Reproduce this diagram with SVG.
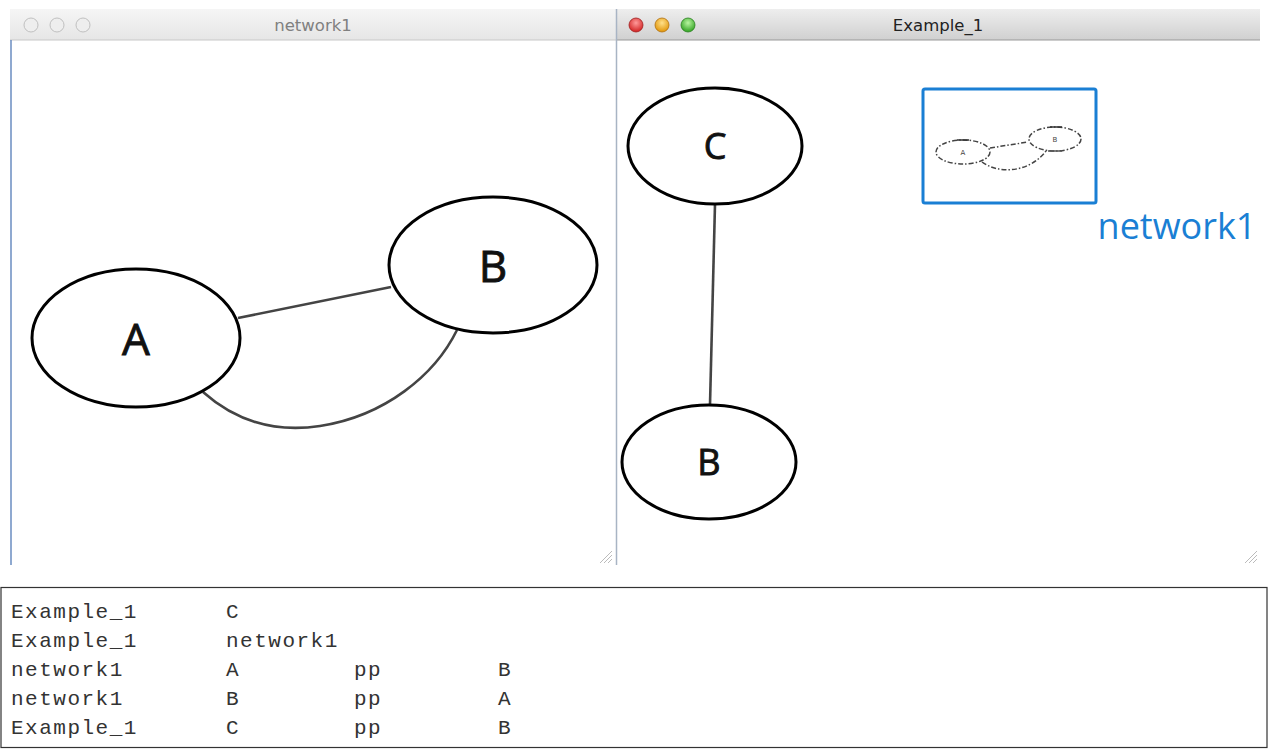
<svg xmlns="http://www.w3.org/2000/svg" width="1270" height="750" viewBox="0 0 1270 750">
<defs>
<linearGradient id="tbA" x1="0" y1="0" x2="0" y2="1"><stop offset="0" stop-color="#eeeeee"/><stop offset="1" stop-color="#d0d0d0"/></linearGradient>
<linearGradient id="tbI" x1="0" y1="0" x2="0" y2="1"><stop offset="0" stop-color="#f5f5f5"/><stop offset="1" stop-color="#e6e6e6"/></linearGradient>
<radialGradient id="red" cx="0.5" cy="0.35" r="0.6"><stop offset="0" stop-color="#ff9a9a"/><stop offset="1" stop-color="#d42a2a"/></radialGradient>
<radialGradient id="orange" cx="0.5" cy="0.35" r="0.6"><stop offset="0" stop-color="#ffe08a"/><stop offset="1" stop-color="#e39a10"/></radialGradient>
<radialGradient id="green" cx="0.5" cy="0.35" r="0.6"><stop offset="0" stop-color="#b8f5a0"/><stop offset="1" stop-color="#3aa82a"/></radialGradient>
</defs>
<style>
.node{fill:#fff;stroke:#000;stroke-width:3}
.edge{fill:none;stroke:#444;stroke-width:2.6}
.lbl{font-family:"Open Sans","DejaVu Sans",sans-serif;fill:#111;stroke:#111;stroke-width:0.9;text-anchor:middle}
.title{font-family:"DejaVu Sans","Liberation Sans",sans-serif;font-size:16.5px;text-anchor:middle}
.mono{font-family:"Liberation Mono","Courier New",monospace;font-size:21px;letter-spacing:1.5px;fill:#333}
.thumb{fill:none;stroke:#444;stroke-width:1.5;stroke-dasharray:5 2 1.5 2}
.grip{stroke:#bbb;stroke-width:1}
</style>
<rect width="1270" height="750" fill="#fff"/>

<g id="window-network1">
<rect x="10" y="9" width="606" height="556" fill="#fff"/>
<rect x="10" y="9" width="606" height="31" fill="url(#tbI)"/>
<line x1="10" y1="40" x2="616" y2="40" stroke="#c8c8c8" stroke-width="1"/>
<line x1="11" y1="40" x2="11" y2="565" stroke="#6a8cc0" stroke-width="1.5"/>
<circle cx="31" cy="25" r="7" fill="#eee" stroke="#c0c0c0" stroke-width="1"/>
<circle cx="57" cy="25" r="7" fill="#eee" stroke="#c0c0c0" stroke-width="1"/>
<circle cx="83" cy="25" r="7" fill="#eee" stroke="#c0c0c0" stroke-width="1"/>
<text class="title" x="313" y="31" fill="#808080">network1</text>
<g class="grip"><line x1="600" y1="563" x2="612" y2="551"/><line x1="604" y1="563" x2="612" y2="555"/><line x1="608" y1="563" x2="612" y2="559"/></g>
</g>

<g id="window-example1">
<rect x="616" y="9" width="644" height="556" fill="#fff"/>
<rect x="616" y="9" width="644" height="31" fill="url(#tbA)"/>
<line x1="616" y1="40" x2="1260" y2="40" stroke="#999" stroke-width="1"/>
<line x1="616.5" y1="9" x2="616.5" y2="565" stroke="#a8b4c4" stroke-width="1.5"/>
<circle cx="636" cy="25" r="7" fill="url(#red)" stroke="#a02020" stroke-width="0.8"/>
<circle cx="662" cy="25" r="7" fill="url(#orange)" stroke="#b07010" stroke-width="0.8"/>
<circle cx="688" cy="25" r="7" fill="url(#green)" stroke="#2a8020" stroke-width="0.8"/>
<text class="title" x="938" y="31" fill="#222">Example_1</text>
<g class="grip"><line x1="1245" y1="563" x2="1257" y2="551"/><line x1="1249" y1="563" x2="1257" y2="555"/><line x1="1253" y1="563" x2="1257" y2="559"/></g>
</g>

<g id="connectors">
<line class="edge" x1="238" y1="318" x2="391" y2="287"/>
<path class="edge" d="M203,392 C240,425 280,432 320,426 C385,416 435,375 457,330"/>
<line class="edge" x1="715" y1="204" x2="710" y2="405"/>
</g>

<g id="node-A"><ellipse class="node" cx="136" cy="338" rx="104" ry="69"/><text class="lbl" x="136" y="355" font-size="44">A</text></g>
<g id="node-B-net"><ellipse class="node" cx="493" cy="265" rx="104" ry="68"/><text class="lbl" x="493" y="282" font-size="44">B</text></g>
<g id="node-C"><ellipse class="node" cx="715" cy="146" rx="87" ry="58"/><text class="lbl" x="715" y="159" font-size="36">C</text></g>
<g id="node-B-ex"><ellipse class="node" cx="709" cy="462" rx="87" ry="57"/><text class="lbl" x="709" y="475" font-size="36">B</text></g>

<g id="node-network1">
<rect x="923" y="89" width="173" height="114" rx="2" fill="#fff" stroke="#1a7fd4" stroke-width="3"/>
<ellipse class="thumb" cx="963" cy="152" rx="27" ry="12"/>
<ellipse class="thumb" cx="1055" cy="139" rx="26" ry="12"/>
<line x1="957" y1="140" x2="969" y2="140" stroke="#333" stroke-width="1.5"/>
<line x1="1050" y1="127" x2="1062" y2="127" stroke="#333" stroke-width="1.5"/>
<line x1="1048" y1="151" x2="1062" y2="151" stroke="#555" stroke-width="1.5"/>
<path class="thumb" d="M990,148 L1028,142"/>
<path class="thumb" d="M982,162 C1000,175 1030,172 1046,151"/>
<text x="963" y="155" font-family="DejaVu Sans,sans-serif" font-size="7" text-anchor="middle" fill="#444">A</text>
<text x="1055" y="142" font-family="DejaVu Sans,sans-serif" font-size="7" text-anchor="middle" fill="#444">B</text>
<text x="1177" y="239" font-family="'Open Sans','DejaVu Sans',sans-serif" font-size="36" text-anchor="middle" fill="#1a7fd4">network1</text>
</g>

<g id="table">
<rect x="1" y="587.5" width="1266" height="160" fill="#fff" stroke="#333" stroke-width="1.2"/>
<text class="mono" x="11" y="618">Example_1</text><text class="mono" x="226" y="618">C</text>
<text class="mono" x="11" y="647">Example_1</text><text class="mono" x="226" y="647">network1</text>
<text class="mono" x="11" y="676">network1</text><text class="mono" x="226" y="676">A</text><text class="mono" x="354" y="676">pp</text><text class="mono" x="498" y="676">B</text>
<text class="mono" x="11" y="705">network1</text><text class="mono" x="226" y="705">B</text><text class="mono" x="354" y="705">pp</text><text class="mono" x="498" y="705">A</text>
<text class="mono" x="11" y="734">Example_1</text><text class="mono" x="226" y="734">C</text><text class="mono" x="354" y="734">pp</text><text class="mono" x="498" y="734">B</text>
</g>
</svg>
